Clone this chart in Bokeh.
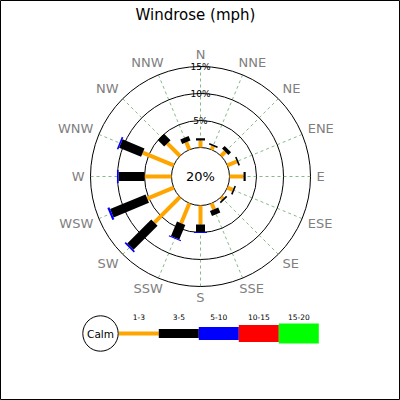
import numpy as np
from bokeh.plotting import figure
from bokeh.models import Range1d
from bokeh.core.properties import value
from bokeh.embed import file_html
from bokeh.resources import INLINE

# ---------------- data ----------------
directions = ["N", "NNE", "NE", "ENE", "E", "ESE", "SE", "SSE",
              "S", "SSW", "SW", "WSW", "W", "WNW", "NW", "NNW"]
speed_bins = ["1-3", "3-5", "5-10", "10-15", "15-20"]
bin_colors = ["#FFA500", "#000000", "#0000FF", "#FF0000", "#00FF00"]
freq_1_3 = [1.3, 0.7, 1.1, 1.9, 2.6, 1.1, 0.5, 1.2, 3.5, 4.0, 6.7, 5.3, 5.0, 6.2, 3.3, 1.5]
freq_3_5 = [0.4, 0.3, 0.7, 0.3, 0.4, 0.3, 0.3, 1.0, 1.4, 2.9, 6.3, 7.1, 4.8, 4.4, 1.7, 0.9]
freq_5_10 = [0.0, 0.0, 0.0, 0.0, 0.0, 0.0, 0.0, 0.0, 0.2, 0.2, 0.3, 0.4, 0.3, 0.3, 0.0, 0.0]
freq_10_15 = [0.0] * 16
freq_15_20 = [0.0] * 16
calm_label = "20%"
ring_pcts = [5, 10, 15]
ring_labels = ["5%", "10%", "15%"]
title_text = "Windrose (mph)"

# ---------------- layout constants ----------------
PX = 5.4                # pixels per percent
R0 = 29.0 / PX          # radius of the calm circle
W, H = 400, 400
CX, CY = 200, 176       # rose centre in figure pixels
FONT = "DejaVu Sans"
bar_widths = [4, 9, 13, 17, 20]
LABEL_PX = 13
ADV = {"N": 1532, "E": 1294, "S": 1300, "W": 2025}   # DejaVu Sans advance widths (per 2048 em)

p = figure(width=W, height=H, output_backend="svg", toolbar_location=None,
           x_range=Range1d(-CX / PX, (W - CX) / PX),
           y_range=Range1d((CY - H) / PX, CY / PX),
           min_border=0, tools="")
p.axis.visible = False
p.grid.visible = False
p.outline_line_color = "black"
p.outline_line_width = 1
p.background_fill_color = "white"
p.border_fill_color = "white"

ang = np.deg2rad(np.arange(16) * 22.5)
sx, sy = np.sin(ang), np.cos(ang)

# radial dashed grid lines
p.segment(x0=R0 * sx, y0=R0 * sy, x1=(R0 + ring_pcts[-1]) * sx, y1=(R0 + ring_pcts[-1]) * sy,
          line_color="#6aa66a", line_dash="3 3", line_width=0.8)

# rings
p.circle(x=[0] * 4, y=[0] * 4, radius=[R0] + [R0 + r for r in ring_pcts],
         fill_color=None, line_color="black", line_width=1)

# stacked bars
series = [freq_1_3, freq_3_5, freq_5_10, freq_10_15, freq_15_20]
cum = np.zeros(16)
for k, vals in enumerate(series):
    v = np.array(vals)
    start = R0 + cum
    end = R0 + cum + v
    m = v > 0
    if m.any():
        p.segment(x0=(start * sx)[m], y0=(start * sy)[m], x1=(end * sx)[m], y1=(end * sy)[m],
                  line_color=bin_colors[k], line_width=bar_widths[k], line_cap="butt")
    cum = cum + v

# ring labels
p.text(x=[0] * 3, y=[R0 + r for r in ring_pcts], text=ring_labels,
       text_font=value(FONT), text_font_size="9px", text_color="black",
       text_align="center", text_baseline="middle")

# calm label
p.text(x=[0], y=[0], text=[calm_label], text_font=value(FONT), text_font_size="13px",
       text_color="black", text_align="center", text_baseline="middle")

# direction labels: placed just outside the outer ring, box pushed outward
RL = 116.0
f = lambda s: np.clip(1.4 * s, -1, 1)
widths = np.array([sum(ADV[c] for c in d) * LABEL_PX / 2048 for d in directions])
lab_x = (RL * sx + widths / 2 * f(sx)) / PX
lab_y = (RL * sy + np.where(sy > 0, 6.5, 4.7) * f(sy)) / PX
p.text(x=lab_x, y=lab_y, text=directions, text_font=value(FONT), text_font_size=f"{LABEL_PX}px",
       text_color="#7f7f7f", text_align="center", text_baseline="middle")

# title
p.text(x=[-5 / PX], y=[(176 - 14) / PX], text=[title_text], text_font=value(FONT),
       text_font_size="15px", text_color="black", text_align="center", text_baseline="middle")

# legend
ly = (176 - 333) / PX
lx0 = (118.3 - 200) / PX
seg = 40.0 / PX
for k, name in enumerate(speed_bins):
    xa = lx0 + k * seg
    p.segment(x0=[xa], y0=[ly], x1=[xa + seg], y1=[ly], line_color=bin_colors[k],
              line_width=bar_widths[k], line_cap="butt")
p.text(x=[lx0 + (k + 0.5) * seg for k in range(len(speed_bins))], y=[(176 - 316) / PX] * len(speed_bins),
       text=speed_bins, text_font=value(FONT), text_font_size="7.5px", text_color="black",
       text_align="center", text_baseline="middle")
p.circle(x=[(100 - 200) / PX], y=[ly], radius=[17.7 / PX], fill_color="white",
         line_color="black", line_width=1)
p.text(x=[(100 - 200) / PX], y=[ly], text=["Calm"], text_font=value(FONT), text_font_size="10.5px",
       text_color="black", text_align="center", text_baseline="middle")

open("out.html", "w").write(file_html(p, INLINE))
